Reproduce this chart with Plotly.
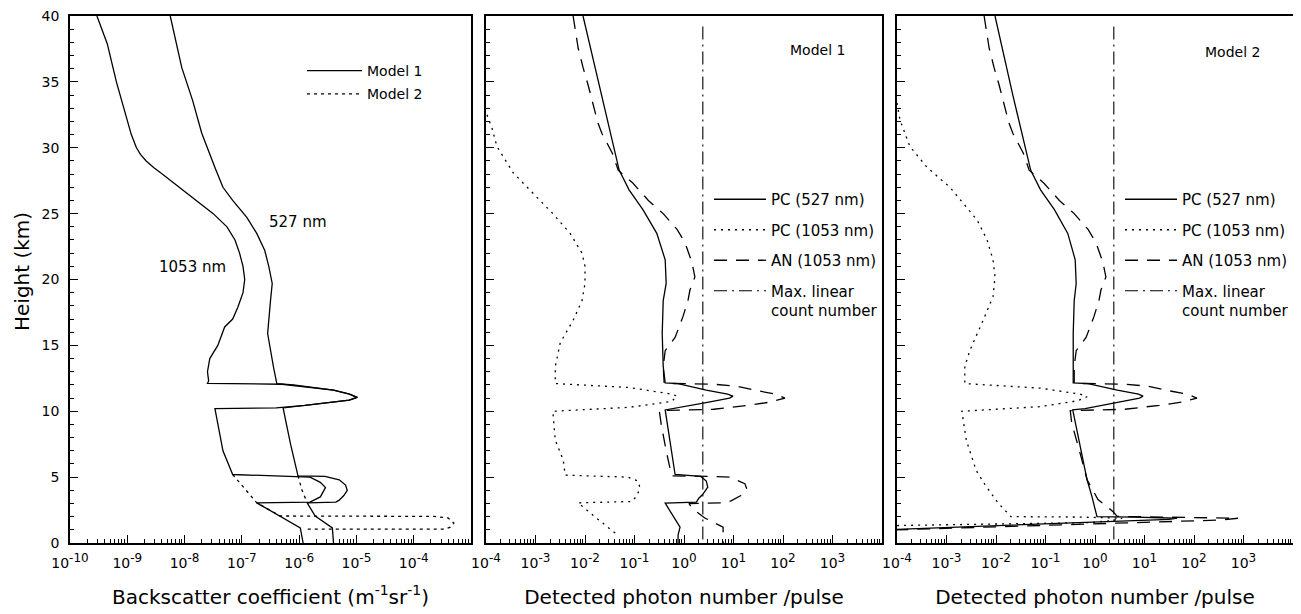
import plotly.graph_objects as go

# The page body adds an 8 px margin, so the figure is 8 px smaller on each axis
OFF = 8
W, H = 1301 - OFF, 614 - OFF
FONT = "DejaVu Sans"

# ---------------- data (heights in km, values as log10) ----------------
# Left panel: backscatter coefficient (m^-1 sr^-1)
h_bs527_m1 = [40, 38.7, 36.1, 33.6, 31.1, 28.5, 27, 26, 24.7, 23.5, 22.2, 21, 19.7, 18.4, 15.9, 13.4,
              12.1, 12.0, 11.6, 11.3, 11.05, 10.85, 10.7, 10.45, 10.25, 7.5, 5.1, 5.05, 4.8, 4.4, 4.0,
              3.6, 3.25, 3.1, 3.05, 2.05, 1.15, 0]
lg_bs527_m1 = [-8.25, -8.18, -8.05, -7.86, -7.70, -7.47, -7.33, -7.16, -6.91, -6.74, -6.60, -6.53, -6.47,
               -6.50, -6.55, -6.45, -6.39, -6.10, -5.40, -5.12, -4.98, -5.12, -5.40, -5.90, -6.28, -6.15,
               -6.02, -5.55, -5.30, -5.19, -5.16, -5.22, -5.30, -5.36, -5.86, -5.72, -5.42, -5.40]
h_bs1053_m1 = [40, 37.9, 35, 32, 31, 30, 29.5, 29, 28.5, 28, 27, 26, 25, 24, 23, 22, 21, 20, 19, 17.9, 17,
               16.4, 15, 14, 13, 12.3, 12.12, 12.05, 11.6, 11.3, 11.05, 10.85, 10.7, 10.45, 10.25, 10.2,
               7, 5.2, 5.0, 4.6, 4.2, 3.5, 3.1, 3.05, 1.15, 0]
lg_bs1053_m1 = [-9.53, -9.35, -9.19, -9.00, -8.93, -8.84, -8.77, -8.67, -8.54, -8.39, -8.09, -7.79, -7.50,
                -7.26, -7.12, -7.04, -6.98, -6.95, -6.98, -7.07, -7.16, -7.30, -7.42, -7.56, -7.60, -7.58,
                -7.60, -6.30, -5.40, -5.12, -5.00, -5.13, -5.40, -5.90, -6.40, -7.47, -7.33, -7.16, -5.81,
                -5.63, -5.54, -5.63, -5.81, -6.74, -5.98, -5.93]
h_bs527_m2 = [5.1, 4.0, 3.05]
lg_bs527_m2 = [-6.02, -5.95, -5.86]
h_bs1053_m2 = [5.2, 4.0, 3.05, 2.05, 2.02, 1.9, 1.52, 1.2, 1.06, 1.05]
lg_bs1053_m2 = [-7.16, -6.93, -6.74, -6.33, -3.65, -3.40, -3.30, -3.36, -3.45, -5.86]

# Middle panel: Model 1, detected photon number per pulse
h_pc527_m1 = [40, 34, 28.3, 26.8, 25.3, 23.5, 21.5, 19.7, 18.4, 15.9, 13.4, 12.15, 12.1, 11.6, 11.3, 11.15,
              11.0, 10.7, 10.2, 10.1, 5.2, 5.05, 4.7, 4.25, 3.7, 3.4, 3.1, 3.02, 1.2, 0.6, 0]
lg_pc527_m1 = [-2.04, -1.67, -1.31, -1.11, -0.83, -0.55, -0.38, -0.36, -0.42, -0.44, -0.42, -0.38, -0.12,
               0.45, 0.88, 0.99, 0.92, 0.5, -0.18, -0.38, -0.18, 0.34, 0.45, 0.48, 0.38, 0.30, 0.25, -0.38,
               -0.08, -0.12, -0.12]
h_pc1053_m1 = [32.5, 31.5, 30.1, 28.1, 26.0, 25.0, 23.5, 22.0, 21.0, 19.7, 18.4, 16.9, 15.2, 13.4, 12.1,
               11.8, 11.3, 11.15, 10.75, 10.3, 10.0, 7.8, 6.3, 5.15, 5.0, 4.7, 4.2, 3.6, 3.15, 3.05, 1.9, 0.75]
lg_pc1053_m1 = [-3.98, -3.88, -3.78, -3.45, -2.91, -2.65, -2.30, -2.06, -2.00, -2.00, -2.06, -2.24, -2.50,
                -2.60, -2.60, -1.10, -0.25, -0.14, -0.25, -1.10, -2.65, -2.60, -2.44, -2.40, -1.13, -0.93,
                -0.89, -0.95, -1.05, -2.14, -1.77, -1.39]
h_an1053_m1 = [40, 37.6, 36.1, 34.8, 31.9, 31.1, 29.6, 28.3, 27.3, 26.0, 25.0, 23.8, 22.8, 21.3, 20.2, 19.2,
               18.4, 17.2, 15.6, 14.6, 13.4, 12.12, 12.05, 11.9, 11.55, 11.3, 11.0, 10.7, 10.45, 10.15,
               10.05, 9.0, 7.0, 5.1, 5.05, 5.0, 4.5, 4.1, 3.6, 3.2, 3.05, 3.0, 2.65, 1.9, 1.2, 0]
lg_an1053_m1 = [-2.24, -2.14, -2.04, -1.94, -1.74, -1.66, -1.45, -1.33, -1.03, -0.72, -0.42, -0.14, 0.02,
                0.16, 0.22, 0.12, 0.08, -0.02, -0.18, -0.38, -0.42, -0.40, 0.60, 1.07, 1.50, 1.85, 2.04,
                1.75, 1.30, 0.60, -0.50, -0.46, -0.36, -0.25, 0.50, 0.93, 1.23, 1.27, 1.15, 0.95, 0.83,
                0.10, 0.16, 0.42, 0.79, 0.79]

# Right panel: Model 2
h_pc527_m2 = [40, 34, 28.3, 26.8, 25.3, 23.5, 21.5, 19.7, 18.4, 15.9, 13.4, 12.15, 12.1, 11.6, 11.3, 11.15,
              11.0, 10.7, 10.2, 10.1, 4.8, 3.5, 2.0, 1.97, 1.93, 1.88, 1.8, 1.04]
lg_pc527_m2 = [-2.02, -1.66, -1.30, -1.10, -0.82, -0.55, -0.40, -0.38, -0.42, -0.44, -0.44, -0.44, -0.14,
               0.45, 0.88, 0.97, 0.90, 0.5, -0.2, -0.45, -0.16, -0.06, 0.04, 0.81, 1.40, 1.66, 1.50, -4.0]
h_pc1053_m2 = [33.4, 32.1, 30.1, 28.5, 27.0, 25.8, 24.5, 23.0, 21.5, 20.2, 18.7, 16.9, 14.6, 13.4, 12.1,
               11.75, 11.3, 11.1, 10.8, 10.35, 10.0, 7.8, 5.5, 4.3, 3.0, 2.1, 2.0, 1.97, 1.93, 1.88, 1.7,
               1.55, 1.35, 1.3]
lg_pc1053_m2 = [-4.0, -3.94, -3.74, -3.39, -2.93, -2.67, -2.38, -2.18, -2.06, -2.02, -2.06, -2.26, -2.53,
                -2.63, -2.63, -1.10, -0.30, -0.16, -0.35, -1.10, -2.69, -2.60, -2.40, -2.20, -1.95, -1.72,
                -1.70, -0.30, 0.30, 0.55, 0.35, -0.10, -3.60, -4.4]
h_an1053_m2 = [40, 37.6, 36.1, 34.8, 31.9, 31.1, 29.6, 28.3, 27.3, 26.0, 25.0, 23.8, 22.8, 21.3, 20.2, 19.2,
               18.4, 17.2, 15.6, 14.6, 13.4, 12.12, 12.05, 11.9, 11.55, 11.3, 11.0, 10.7, 10.45, 10.15,
               10.05, 9.1, 6.8, 4.8, 3.3, 2.4, 2.02, 1.98, 1.93, 1.88, 1.75, 1.0]
lg_an1053_m2 = [-2.24, -2.14, -2.04, -1.94, -1.74, -1.66, -1.45, -1.33, -1.03, -0.72, -0.42, -0.14, 0.02,
                0.16, 0.22, 0.12, 0.08, -0.02, -0.18, -0.38, -0.42, -0.42, 0.60, 1.07, 1.50, 1.87, 2.06,
                1.77, 1.30, 0.60, -0.50, -0.47, -0.30, -0.16, 0.06, 0.36, 0.45, 1.5, 2.6, 2.89, 2.59, -4.0]

# maximum linear count number (photons / pulse) and its drawn height span
max_linear = 2.4
h_max_linear = [39.2, 0]

SUP = "<sup><span style='font-size:12px'>{}</span></sup>"
left_ticks = [-10, -9, -8, -7, -6, -5, -4, -3]
left_exps = ["-10", "-9", "-8", "-7", "-6", "-5", "-4", None]
pn_ticks = [-4, -3, -2, -1, 0, 1, 2, 3, 4]
pn_exps = ["-4", "-3", "-2", "-1", "0", "1", "2", "3", None]
left_labels = ["10" + SUP.format(e) if e is not None else "" for e in left_exps]
pn_labels = ["10" + SUP.format(e) if e is not None else "" for e in pn_exps]

# ---------------- styles ----------------
SOLID = "solid"
DOT = "2px,5px"
DOT_L = "3px,4px"
DASH = "13px,9px"
DASHDOT = "13px,5px,2px,5px"
LW = 1.3

fig = go.Figure()


def add(h, lg, ax, dash, name, legend, show, width=LW):
    fig.add_trace(go.Scatter(
        x=[10.0 ** v for v in lg], y=h, mode="lines",
        line=dict(color="black", width=width, dash=dash),
        name=name, xaxis="x" + ax, yaxis="y" + ax,
        legend=legend, showlegend=show, legendgroup=legend + name,
        hoverinfo="skip"))


add(h_bs527_m1, lg_bs527_m1, "", SOLID, "Model 1", "legend", True)
add(h_bs1053_m1, lg_bs1053_m1, "", SOLID, "Model 1", "legend", False)
add(h_bs1053_m2, lg_bs1053_m2, "", DOT_L, "Model 2", "legend", True)
add(h_bs527_m2, lg_bs527_m2, "", DOT_L, "Model 2", "legend", False)

for ax, lg_set, hs, leg in [
    ("2", (lg_pc527_m1, lg_pc1053_m1, lg_an1053_m1), (h_pc527_m1, h_pc1053_m1, h_an1053_m1), "legend2"),
    ("3", (lg_pc527_m2, lg_pc1053_m2, lg_an1053_m2), (h_pc527_m2, h_pc1053_m2, h_an1053_m2), "legend3"),
]:
    add(hs[0], lg_set[0], ax, SOLID, "PC (527 nm)", leg, True)
    add(hs[1], lg_set[1], ax, DOT, "PC (1053 nm)", leg, True)
    add(hs[2], lg_set[2], ax, DASH, "AN (1053 nm)", leg, True)
    fig.add_trace(go.Scatter(
        x=[max_linear, max_linear], y=h_max_linear, mode="lines",
        line=dict(color="black", width=1.1, dash=DASHDOT),
        name="Max. linear<br>count number", xaxis="x" + ax, yaxis="y" + ax,
        legend=leg, showlegend=True, legendgroup=leg + "max", hoverinfo="skip"))


def px_x(p):   # page pixel -> paper fraction
    return (p - OFF) / W


def px_y(p):
    return 1 - (p - OFF) / H


ydom = [px_y(543), px_y(16)]
xdoms = [[px_x(70), px_x(471)], [px_x(486), px_x(882)], [px_x(897), px_x(1293)]]

tickfont = dict(family=FONT, size=14, color="black")
titlefont = dict(family=FONT, size=20, color="black")


def tick_lists(ticks):
    vals = [10.0 ** e for e in ticks]
    minors = [m * 10.0 ** e for e in ticks[:-1] for m in range(2, 10)]
    return vals, minors


def xaxis(ticks, labels, dom, anchor, title):
    vals, minors = tick_lists(ticks)
    return dict(type="log", range=[ticks[0], ticks[-1]], domain=dom, anchor=anchor,
                tickmode="array", tickvals=vals, ticktext=labels,
                ticks="inside", ticklen=8, tickwidth=1.2, tickcolor="black",
                minor=dict(tickmode="array", tickvals=minors, ticks="inside", ticklen=4,
                           tickwidth=1, tickcolor="black"),
                showline=True, linecolor="black", linewidth=1.5, mirror=True,
                showgrid=False, zeroline=False, tickfont=tickfont, ticklabelstandoff=6,
                ticklabeloverflow="allow", automargin=False,
                title=dict(text=title, font=titlefont, standoff=20))


def xaxis_top(ticks, dom, over, anchor):
    vals, minors = tick_lists(ticks)
    return dict(type="log", range=[ticks[0], ticks[-1]], domain=dom, overlaying=over,
                anchor=anchor, side="top",
                tickmode="array", tickvals=vals, ticktext=[""] * len(vals),
                ticks="inside", ticklen=8, tickwidth=1.2, tickcolor="black",
                minor=dict(tickmode="array", tickvals=minors, ticks="inside", ticklen=4,
                           tickwidth=1, tickcolor="black"),
                showline=False, showgrid=False, zeroline=False, showticklabels=False,
                automargin=False)


def yaxis(dom_x_anchor, labels):
    return dict(range=[0, 40], domain=ydom, anchor=dom_x_anchor, tickmode="linear", tick0=0, dtick=5,
                ticks="inside", ticklen=8, tickwidth=1.2, tickcolor="black",
                minor=dict(dtick=1, ticks="inside", ticklen=4, tickwidth=1, tickcolor="black"),
                showline=True, linecolor="black", linewidth=1.5, mirror=True,
                showgrid=False, zeroline=False, showticklabels=labels, tickfont=tickfont,
                ticklabelstandoff=6, ticklabeloverflow="allow", automargin=False)


legfont = dict(family=FONT, size=15, color="black")

fig.update_layout(
    width=W, height=H, autosize=False,
    margin=dict(l=0, r=0, t=0, b=0, autoexpand=False),
    paper_bgcolor="white", plot_bgcolor="white",
    font=dict(family=FONT, color="black"),
    xaxis=xaxis(left_ticks, left_labels, xdoms[0], "y",
                "Backscatter coefficient (m<sup>-1</sup>sr<sup>-1</sup>)"),
    xaxis2=xaxis(pn_ticks, pn_labels, xdoms[1], "y2", "Detected photon number /pulse"),
    xaxis3=xaxis(pn_ticks, pn_labels, xdoms[2], "y3", "Detected photon number /pulse"),
    xaxis4=xaxis_top(left_ticks, xdoms[0], "x", "y"),
    xaxis5=xaxis_top(pn_ticks, xdoms[1], "x2", "y2"),
    xaxis6=xaxis_top(pn_ticks, xdoms[2], "x3", "y3"),
    yaxis=yaxis("x", True),
    yaxis2=yaxis("x2", False),
    yaxis3=yaxis("x3", False),
    legend=dict(x=px_x(302), y=px_y(55), xanchor="left", yanchor="top",
                font=dict(family=FONT, size=14, color="black"), bgcolor="rgba(0,0,0,0)",
                itemwidth=55, tracegroupgap=2),
    legend2=dict(x=px_x(709), y=px_y(183), xanchor="left", yanchor="top",
                 font=legfont, bgcolor="rgba(0,0,0,0)",
                 itemwidth=52, tracegroupgap=8, valign="top"),
    legend3=dict(x=px_x(1120), y=px_y(183), xanchor="left", yanchor="top",
                 font=legfont, bgcolor="rgba(0,0,0,0)",
                 itemwidth=52, tracegroupgap=8, valign="top"),
    annotations=[
        dict(text="Height (km)", x=px_x(22), y=px_y(272), xref="paper", yref="paper",
             textangle=-90, showarrow=False, xanchor="center", yanchor="middle",
             font=titlefont),
        dict(text="527 nm", x=-6.02, y=24.4, xref="x", yref="y", showarrow=False,
             font=dict(family=FONT, size=15, color="black")),
        dict(text="1053 nm", x=-7.86, y=20.95, xref="x", yref="y", showarrow=False,
             font=dict(family=FONT, size=15, color="black")),
        dict(text="Model 1", x=2.69, y=37.4, xref="x2", yref="y2", showarrow=False,
             font=dict(family=FONT, size=14, color="black")),
        dict(text="Model 2", x=2.77, y=37.3, xref="x3", yref="y3", showarrow=False,
             font=dict(family=FONT, size=14, color="black")),
    ],
)

fig.write_html("out.html")
